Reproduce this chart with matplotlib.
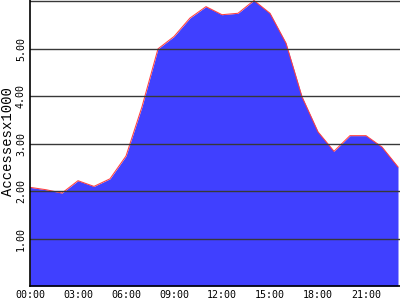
import numpy as np
import matplotlib
matplotlib.use("Agg")
import matplotlib.pyplot as plt

# accesos por hora (en miles)
horas = np.arange(24)
accesos = [2.08, 2.03, 1.96, 2.22, 2.10, 2.26, 2.74, 3.78,
           5.00, 5.26, 5.65, 5.89, 5.72, 5.75, 6.02, 5.75,
           5.12, 3.99, 3.25, 2.84, 3.17, 3.17, 2.93, 2.51]

xticks = [0, 3, 6, 9, 12, 15, 18, 21]
xlabels = ["00:00", "03:00", "06:00", "09:00", "12:00", "15:00", "18:00", "21:00"]
yticks = [1, 2, 3, 4, 5]
ylabels = ["1.00", "2.00", "3.00", "4.00", "5.00"]
grid_vals = [1, 2, 3, 4, 5, 6]

fig = plt.figure(figsize=(4, 3), dpi=100)
ax = fig.add_axes([30 / 400, 14 / 300, 370 / 400, 286 / 300])

ax.fill_between(horas, accesos, 0, color="#4040ff", linewidth=0, zorder=1)
ax.plot(horas, accesos, color="#ff4040", linewidth=0.75, zorder=2)

for g in grid_vals:
    ax.axhline(g, color="#383838", linewidth=1, zorder=3)

ax.set_xlim(0, 23.125)
ax.set_ylim(0, 6.03)

ax.set_xticks(xticks)
ax.set_xticklabels(xlabels, fontfamily="DejaVu Sans Mono", fontsize=7.2)
ax.set_yticks(yticks)
ax.set_yticklabels(ylabels, fontfamily="DejaVu Sans Mono", fontsize=7.2,
                   rotation=90, va="center")
ax.tick_params(length=0, pad=3)

ax.spines["top"].set_visible(False)
ax.spines["right"].set_visible(False)
ax.spines["left"].set_linewidth(1.2)
ax.spines["bottom"].set_linewidth(1.2)
ax.spines["left"].set_zorder(4)
ax.spines["bottom"].set_zorder(4)

fig.text(8.5 / 400, 1 - 142 / 300, "Accessesx1000", rotation=90,
         fontfamily="Liberation Mono", fontsize=10, ha="center", va="center")

fig.savefig("out.png", dpi=100)
